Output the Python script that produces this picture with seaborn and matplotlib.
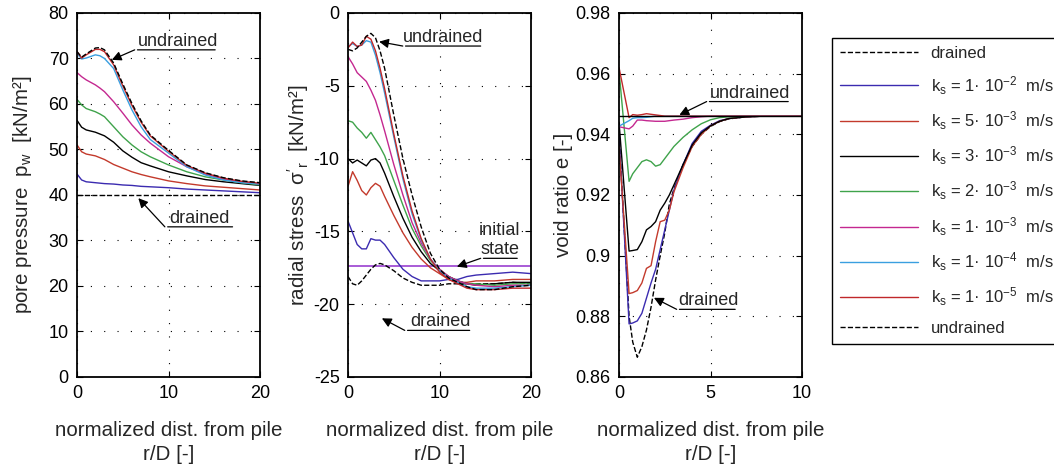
import numpy as np
import matplotlib
matplotlib.use("Agg")
import matplotlib.pyplot as plt
import seaborn as sns
from matplotlib.ticker import FuncFormatter

#-----------------------------------------------------------------------
# Data
labels = ['drained',
          r'$k_s$ = 1· 10$^{-2}$  m/s',
          r'$k_s$ = 5· 10$^{-3}$  m/s',
          r'$k_s$ = 3· 10$^{-3}$  m/s',
          r'$k_s$ = 2· 10$^{-3}$  m/s',
          r'$k_s$ = 1· 10$^{-3}$  m/s',
          r'$k_s$ = 1· 10$^{-4}$  m/s',
          r'$k_s$ = 1· 10$^{-5}$  m/s',
          'undrained']
colors = ['black', '#3b2bb0', '#c33a2c', 'black', '#3fa34b',
          '#c42890', '#3a9fe0', '#c0282a', 'black']
styles = ['--', '-', '-', '-', '-', '-', '-', '-', '--']

# pore pressure [kN/m2] vs r/D
x_pw = [0, 0.5, 1, 2, 2.5, 3, 4, 5, 6, 7, 8, 10, 12, 14, 16, 18, 20]
pw_drained = [40] * len(x_pw)
pw_k1e2 = [44.6, 43.3, 42.9, 42.7, 42.6, 42.5, 42.4, 42.2, 42.1, 41.9, 41.8, 41.6, 41.3, 41.1, 40.9, 40.7, 40.5]
pw_k5e3 = [51.0, 49.5, 49.0, 48.6, 48.2, 47.8, 46.7, 45.9, 45.1, 44.5, 44.0, 43.1, 42.5, 42.0, 41.7, 41.4, 41.1]
pw_k3e3 = [56.4, 54.9, 54.3, 53.8, 53.4, 53.0, 51.6, 49.7, 48.3, 47.1, 46.4, 45.1, 44.2, 43.4, 42.9, 42.5, 42.1]
pw_k2e3 = [61.0, 59.8, 59.0, 58.3, 57.8, 57.2, 55.0, 52.8, 51.0, 49.5, 48.4, 46.6, 45.1, 44.0, 43.3, 42.7, 42.2]
pw_k1e3 = [66.9, 66.0, 65.3, 64.2, 63.5, 62.7, 60.5, 58.0, 55.4, 53.2, 51.4, 48.4, 46.2, 44.6, 43.5, 42.9, 42.4]
pw_k1e4 = [71.1, 69.9, 70.1, 70.8, 70.6, 70.0, 67.8, 63.1, 58.7, 55.0, 52.2, 49.2, 46.2, 44.4, 43.3, 42.7, 42.4]
pw_k1e5 = [71.5, 70.1, 70.8, 72.0, 72.0, 71.5, 68.6, 64.0, 59.7, 56.0, 53.0, 49.6, 46.5, 44.8, 43.7, 43.0, 42.6]
pw_undrained = [71.5, 70.3, 71.0, 72.3, 72.4, 71.9, 69.0, 64.4, 60.1, 56.3, 53.2, 49.8, 46.6, 44.9, 43.8, 43.1, 42.7]

# radial stress [kN/m2] vs r/D
x_sr = [0, 0.5, 1, 1.5, 2, 2.5, 3, 3.5, 4, 5, 6, 7, 8, 9, 10, 11, 12, 13, 14, 16, 18, 20]
sr_drained = [-18.1, -18.6, -18.7, -18.4, -18.0, -17.6, -17.3, -17.2, -17.3, -17.7, -18.2, -18.5, -18.7, -18.7, -18.7, -18.6, -18.6, -18.6, -18.6, -18.6, -18.5, -18.6]
sr_k1e2 = [-14.3, -15.1, -15.9, -16.2, -16.2, -15.5, -15.6, -15.6, -15.9, -16.8, -17.6, -18.1, -18.4, -18.4, -18.4, -18.3, -18.3, -18.1, -18.0, -17.9, -17.8, -17.9]
sr_k5e3 = [-11.9, -10.9, -11.5, -12.2, -12.5, -12.0, -11.7, -11.9, -12.6, -13.9, -15.1, -16.1, -16.9, -17.5, -17.9, -18.3, -18.5, -18.5, -18.4, -18.4, -18.3, -18.3]
sr_k3e3 = [-10.0, -10.3, -10.1, -10.3, -10.5, -10.1, -10.0, -10.3, -11.0, -12.6, -14.1, -15.4, -16.4, -17.2, -17.7, -18.1, -18.4, -18.6, -18.7, -18.6, -18.5, -18.5]
sr_k2e3 = [-7.4, -7.5, -7.9, -8.2, -8.6, -8.2, -8.7, -9.2, -9.8, -11.5, -13.2, -14.8, -16.0, -17.0, -17.6, -18.1, -18.4, -18.6, -18.6, -18.7, -18.6, -18.6]
sr_k1e3 = [-3.0, -3.5, -4.1, -4.4, -4.7, -5.3, -6.0, -7.0, -8.1, -10.4, -12.5, -14.4, -15.8, -16.9, -17.6, -18.1, -18.4, -18.6, -18.7, -18.8, -18.7, -18.7]
sr_k1e4 = [-2.3, -2.1, -2.3, -2.2, -1.9, -2.0, -2.9, -4.1, -5.5, -8.5, -11.4, -13.8, -15.6, -16.9, -17.7, -18.2, -18.5, -18.8, -18.9, -18.9, -18.8, -18.7]
sr_k1e5 = [-2.4, -2.0, -2.3, -2.2, -1.6, -1.8, -2.6, -3.8, -5.2, -8.3, -11.2, -13.6, -15.5, -16.9, -17.8, -18.3, -18.6, -18.9, -19.0, -19.0, -18.9, -18.9]
sr_undrained = [-2.5, -2.6, -2.4, -2.0, -1.6, -1.4, -1.7, -2.6, -3.8, -7.0, -10.0, -12.5, -14.7, -16.5, -17.6, -18.2, -18.5, -18.8, -19.0, -19.0, -18.8, -18.7]
sr_initial = [-17.4] * len(x_sr)

# void ratio [-] vs r/D
x_e = [0, 0.55, 0.75, 1.0, 1.25, 1.5, 1.75, 2.0, 2.25, 2.5, 2.75, 3.0, 3.5, 4.0, 4.5, 5.0, 5.5, 6.0, 7.0, 8.0, 10.0]
e_drained = [0.940, 0.880, 0.8715, 0.8665, 0.870, 0.8755, 0.883, 0.892, 0.900, 0.9075, 0.917, 0.922, 0.930, 0.936, 0.940, 0.9426, 0.9442, 0.9451, 0.9458, 0.946, 0.946]
e_k1e2 = [0.940, 0.8775, 0.8778, 0.8785, 0.881, 0.886, 0.891, 0.8955, 0.902, 0.9085, 0.915, 0.9216, 0.930, 0.937, 0.941, 0.943, 0.9445, 0.9452, 0.9458, 0.946, 0.946]
e_k5e3 = [0.936, 0.8875, 0.8878, 0.8885, 0.891, 0.8958, 0.8967, 0.9046, 0.9112, 0.9117, 0.915, 0.921, 0.929, 0.936, 0.940, 0.9428, 0.9443, 0.9452, 0.9458, 0.946, 0.946]
e_k3e3 = [0.944, 0.9015, 0.9017, 0.902, 0.9046, 0.9085, 0.9096, 0.9112, 0.915, 0.9173, 0.920, 0.9233, 0.930, 0.9365, 0.9405, 0.9428, 0.9443, 0.9452, 0.9458, 0.946, 0.946]
e_k2e3 = [0.961, 0.9245, 0.927, 0.929, 0.931, 0.9316, 0.931, 0.9295, 0.930, 0.932, 0.934, 0.936, 0.939, 0.9415, 0.9435, 0.9448, 0.9455, 0.9458, 0.946, 0.946, 0.946]
e_k1e3 = [0.9425, 0.9418, 0.9427, 0.9447, 0.9447, 0.9445, 0.9444, 0.9443, 0.9443, 0.9443, 0.9445, 0.9447, 0.945, 0.9455, 0.9458, 0.946, 0.946, 0.946, 0.946, 0.946, 0.946]
e_k1e4 = [0.9427, 0.9445, 0.9453, 0.9455, 0.9455, 0.9456, 0.9458, 0.946, 0.946, 0.946, 0.946, 0.946, 0.946, 0.946, 0.946, 0.946, 0.946, 0.946, 0.946, 0.946, 0.946]
e_k1e5 = [0.962, 0.9455, 0.9465, 0.9463, 0.9465, 0.9468, 0.9466, 0.9464, 0.9462, 0.946, 0.946, 0.946, 0.946, 0.946, 0.946, 0.946, 0.946, 0.946, 0.946, 0.946, 0.946]
e_undrained = [0.946] * len(x_e)

#-----------------------------------------------------------------------
# Style
sns.set_style('ticks')
plt.rcParams['font.family'] = ['Liberation Sans', 'DejaVu Sans']
plt.rcParams['mathtext.fontset'] = 'custom'
plt.rcParams['mathtext.rm'] = 'Liberation Sans'
plt.rcParams['mathtext.it'] = 'Liberation Sans'
plt.rcParams['mathtext.default'] = 'regular'
plt.rcParams['axes.unicode_minus'] = False

FS = 13      # ticks and notes
LFS = 14.8   # axis labels
fig = plt.figure(figsize=(10.54, 4.69), dpi=100)
ax1 = fig.add_axes([0.0731, 0.1962, 0.1736, 0.7761])
ax2 = fig.add_axes([0.3302, 0.1962, 0.1736, 0.7761])
ax3 = fig.add_axes([0.5873, 0.1962, 0.1736, 0.7761])

def draw(ax, x, series, solid_undrained=False):
    for i, y in enumerate(series):
        ls = styles[i]
        if solid_undrained and i == len(series) - 1:
            ls = '-'
        sns.lineplot(x=x, y=y, ax=ax, color=colors[i], linestyle=ls,
                     linewidth=1.0, estimator=None, label=labels[i])
    if ax.get_legend() is not None:
        ax.get_legend().remove()

draw(ax1, x_pw, [pw_drained, pw_k1e2, pw_k5e3, pw_k3e3, pw_k2e3,
                 pw_k1e3, pw_k1e4, pw_k1e5, pw_undrained])
sns.lineplot(x=x_sr, y=sr_initial, ax=ax2, color='#9a40d0', linewidth=1.2)
draw(ax2, x_sr, [sr_drained, sr_k1e2, sr_k5e3, sr_k3e3, sr_k2e3,
                 sr_k1e3, sr_k1e4, sr_k1e5, sr_undrained])
draw(ax3, x_e, [e_drained, e_k1e2, e_k5e3, e_k3e3, e_k2e3,
                e_k1e3, e_k1e4, e_k1e5, e_undrained], solid_undrained=True)

def style_axis(ax, xlim, xticks, ylim, yticks, ylabel, ylab_x):
    ax.set_xlim(xlim)
    ax.set_ylim(ylim)
    ax.set_xticks(xticks)
    ax.set_yticks(yticks)
    ax.yaxis.set_major_formatter(FuncFormatter(lambda v, p: f'{round(v, 4):g}'))
    ax.grid(True, linestyle=(0, (1, 11)), color='black', linewidth=0.8)
    ax.tick_params(direction='in', top=True, right=True, length=4,
                   width=0.8, labelsize=FS, pad=6, colors='black')
    for s in ax.spines.values():
        s.set_visible(True)
        s.set_linewidth(1.3)
        s.set_color('black')
    ax.set_xlabel('normalized dist. from pile\nr/D [-]', fontsize=LFS,
                  linespacing=1.38)
    ax.xaxis.set_label_coords(0.5, -0.12)
    ax.set_ylabel(ylabel, fontsize=LFS, va='center')
    ax.yaxis.set_label_coords(ylab_x, 0.5)

style_axis(ax1, (0, 20), [0, 10, 20], (0, 80), np.arange(0, 81, 10),
           r'pore pressure  $p_w$  [kN/m²]', -0.30)
style_axis(ax2, (0, 20), [0, 10, 20], (-25, 0), np.arange(-25, 1, 5),
           r"radial stress  $\sigma'_r$  [kN/m²]", -0.273)
style_axis(ax3, (0, 10), [0, 5, 10], (0.86, 0.98), np.arange(0.86, 0.981, 0.02),
           'void ratio e [-]', -0.306)

# annotations: text on an underline, arrow from the underline end
def note(ax, text, tx, ty, x0, x1, tip):
    ax.text(tx, ty, text, ha='center', va='bottom', fontsize=FS, linespacing=1.15)
    ax.annotate('', xy=(x1, ty), xytext=(x0, ty),
                arrowprops=dict(arrowstyle='-', color='black', lw=0.9))
    ax.annotate('', xy=tip, xytext=(x0, ty),
                arrowprops=dict(arrowstyle='-|>', color='black', lw=0.9,
                                mutation_scale=14, shrinkA=0, shrinkB=0))

note(ax1, 'undrained', 11.0, 71.9, 6.3, 15.4, (3.8, 69.7))
note(ax1, 'drained', 13.4, 33.0, 9.6, 17.3, (6.7, 39.3))
note(ax2, 'undrained', 10.4, -2.27, 5.98, 14.8, (3.4, -1.97))
note(ax2, 'initial\nstate', 16.6, -16.85, 14.5, 18.8, (11.9, -17.42))
note(ax2, 'drained', 10.05, -21.8, 6.2, 13.6, (3.7, -20.97))
note(ax3, 'undrained', 7.16, 0.9508, 4.79, 9.4, (3.3, 0.9464))
note(ax3, 'drained', 4.87, 0.8823, 3.15, 6.5, (1.91, 0.8861))

handles, labs = ax1.get_legend_handles_labels()
leg = fig.legend(handles, labs, loc='upper left',
                 bbox_to_anchor=(832 / 1054, 1 - 38 / 469),
                 borderaxespad=0, fontsize=12, handlelength=4.67,
                 handletextpad=0.75, labelspacing=0.76, borderpad=0.5,
                 fancybox=False, framealpha=1, edgecolor='black')
leg.get_frame().set_linewidth(1.0)

fig.savefig('out.png', dpi=100)
